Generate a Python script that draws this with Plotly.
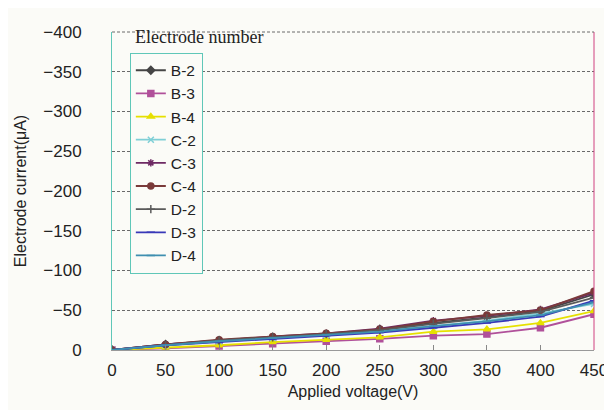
import plotly.graph_objects as go

voltage = [0, 50, 100, 150, 200, 250, 300, 350, 400, 450]

b2 = [0, -7, -12, -16, -20, -26, -34, -41, -49, -70]
b3 = [0, -2, -5, -8, -11, -14, -18, -20, -28, -45]
b4 = [0, -3, -6, -10, -13, -16, -23, -26, -34, -49]
c2 = [0, -6, -11, -15, -19, -25, -30, -37, -46, -58]
c3 = [0, -7, -12, -17, -21, -27, -37, -43, -51, -72]
c4 = [0, -7, -13, -17, -21, -26, -36, -44, -50, -74]
d2 = [0, -6, -12, -16, -20, -25, -33, -40, -48, -66]
d3 = [0, -6, -10, -14, -18, -22, -28, -34, -42, -62]
d4 = [0, -6, -11, -15, -19, -23, -30, -36, -44, -60]

names = ["B-2", "B-3", "B-4", "C-2", "C-3", "C-4", "D-2", "D-3", "D-4"]
series = [b2, b3, b4, c2, c3, c4, d2, d3, d4]
colors = ["#454545", "#b0509a", "#e6e000", "#7fcfd6", "#6e2a64", "#7a3a3a", "#5a5a5a", "#3838b8", "#3f8fb0"]
symbols = ["diamond", "square", "triangle-up", "x-thin", "asterisk", "circle", "cross-thin", "line-ew", "line-ew"]

fig = go.Figure()
for n, s, c, m in zip(names, series, colors, symbols):
    fig.add_trace(go.Scatter(
        x=voltage, y=s, name=n, mode="lines+markers",
        line=dict(color=c, width=1.8),
        marker=dict(symbol=m, size=6, color=c, line=dict(color=c, width=1.5)),
    ))

grid = "#6a6a6a"
sans = "Liberation Sans, Arial, sans-serif"
fig.update_layout(
    width=612, height=410,
    margin=dict(l=103, r=19, t=24, b=68),
    paper_bgcolor="#fbfbf7", plot_bgcolor="#fbfbf7",
    font=dict(family=sans, size=16, color="#222"),
    showlegend=True,
    legend=dict(x=0.037, y=0.935, xanchor="left", yanchor="top",
                bgcolor="#fbfbf7", bordercolor="#5fc7b8", borderwidth=1,
                font=dict(size=15.5, family=sans),
                itemwidth=30, tracegroupgap=0),
    xaxis=dict(range=[0, 450], tickvals=voltage, ticks="inside", ticklen=5,
               tickcolor="#888", showgrid=False, zeroline=False,
               showline=True, linecolor="#999", mirror=False,
               ticklabelstandoff=5,
               title=dict(text="Applied voltage(V)", font=dict(size=16), standoff=6),
               tickfont=dict(size=17)),
    yaxis=dict(range=[0, -400], dtick=50, tick0=0, showgrid=True,
               gridcolor=grid, griddash="3px,2px", gridwidth=1, zeroline=False,
               showline=True, linecolor="#5fc7b8", ticks="",
               ticklabelstandoff=26,
               title=dict(text="Electrode current(\u03bcA)", font=dict(size=16), standoff=12),
               tickfont=dict(size=17)),
    annotations=[dict(text="Electrode number", x=0.043, y=0.985, xref="paper", yref="paper",
                      xanchor="left", yanchor="middle", showarrow=False,
                      font=dict(family="Liberation Serif, Times New Roman, serif", size=18, color="#222"))],
    shapes=[dict(type="line", xref="paper", yref="paper", x0=1, x1=1, y0=0, y1=1,
                 line=dict(color="#d04080", width=1)),
            dict(type="line", xref="paper", yref="paper", x0=0, x1=1, y0=1, y1=1,
                 line=dict(color=grid, width=1, dash="3px,2px"))],
)

fig.write_html("out.html")
